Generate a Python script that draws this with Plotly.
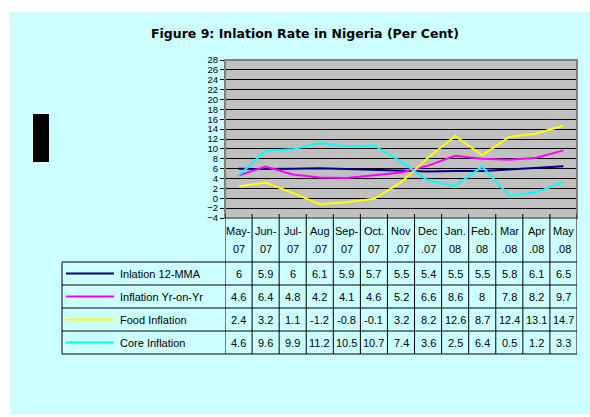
import plotly.graph_objects as go

month_top = ["May-", "Jun-", "Jul-", "Aug", "Sep-", "Oct.", "Nov", "Dec", "Jan.", "Feb.", "Mar", "Apr", "May"]
month_bottom = ["07", "07", "07", ".07", "07", "07", ".07", ".07", "08", "08", ".08", ".08", ".08"]
series_names = ["Inlation 12-MMA", "Inflation Yr-on-Yr", "Food Inflation", "Core Inflation"]
mma12 = [6, 5.9, 6, 6.1, 5.9, 5.7, 5.5, 5.4, 5.5, 5.5, 5.8, 6.1, 6.5]
yoy = [4.6, 6.4, 4.8, 4.2, 4.1, 4.6, 5.2, 6.6, 8.6, 8, 7.8, 8.2, 9.7]
food = [2.4, 3.2, 1.1, -1.2, -0.8, -0.1, 3.2, 8.2, 12.6, 8.7, 12.4, 13.1, 14.7]
core = [4.6, 9.6, 9.9, 11.2, 10.5, 10.7, 7.4, 3.6, 2.5, 6.4, 0.5, 1.2, 3.3]
colors = ["#000080", "#FF00FF", "#FFFF00", "#00FFFF"]
title = "Figure 9: Inlation Rate in Nigeria (Per Cent)"

W, H = 590, 417
L, R, T, B = 225, 577, 60, 218

def px(xp):
    return (xp - L) / (R - L)

def py(yp):
    return (B - yp) / (B - T)

FONT = "Liberation Sans"
data = [mma12, yoy, food, core]
xs = list(range(len(month_top)))

fig = go.Figure()
for name, vals, c in zip(series_names, data, colors):
    fig.add_trace(go.Scatter(x=xs, y=vals, mode="lines", name=name,
                             line=dict(color=c, width=2), showlegend=False, hoverinfo="skip"))

shapes = []
shapes.append(dict(type="rect", xref="paper", yref="paper", x0=px(0), x1=px(10), y0=py(0), y1=py(H),
                   fillcolor="white", line=dict(width=0), layer="below"))
shapes.append(dict(type="rect", xref="paper", yref="paper", x0=px(0), x1=px(W), y0=py(0), y1=py(12),
                   fillcolor="white", line=dict(width=0), layer="below"))
shapes.append(dict(type="rect", xref="paper", yref="paper", x0=px(0), x1=px(W), y0=py(414), y1=py(H),
                   fillcolor="white", line=dict(width=0), layer="below"))
shapes.append(dict(type="rect", xref="paper", yref="paper", x0=px(33), x1=px(49), y0=py(114), y1=py(162),
                   fillcolor="black", line=dict(width=0)))
shapes.append(dict(type="rect", xref="paper", yref="paper", x0=0, x1=1, y0=0, y1=1,
                   line=dict(color="#808080", width=2)))

row_lines = [262, 285, 308, 331, 354]
line_col = "#000000"
for yl in row_lines:
    shapes.append(dict(type="line", xref="paper", yref="paper", x0=px(62), x1=1, y0=py(yl), y1=py(yl),
                       line=dict(color=line_col, width=1)))
shapes.append(dict(type="line", xref="paper", yref="paper", x0=px(62), x1=px(62), y0=py(262), y1=py(354),
                   line=dict(color=line_col, width=1)))
for i in range(len(month_top) + 1):
    shapes.append(dict(type="line", xref="x", yref="paper", x0=i - 0.5, x1=i - 0.5, y0=py(B), y1=py(354),
                       line=dict(color=line_col, width=1)))
    shapes.append(dict(type="line", xref="x", yref="paper", x0=i - 0.5, x1=i - 0.5, y0=0, y1=py(B - 4),
                       line=dict(color=line_col, width=1)))
for r, c in enumerate(colors):
    yc = (row_lines[r] + row_lines[r + 1]) / 2
    shapes.append(dict(type="line", xref="paper", yref="paper", x0=px(66), x1=px(114), y0=py(yc), y1=py(yc),
                       line=dict(color=c, width=2)))

annotations = []
annotations.append(dict(text="<b>" + title + "</b>", xref="paper", yref="paper", x=px(305), y=py(33),
                        showarrow=False, font=dict(family="DejaVu Sans", size=12.5, color="black"),
                        xanchor="center", yanchor="middle"))
for i, (mt, mb) in enumerate(zip(month_top, month_bottom)):
    annotations.append(dict(text=mt, xref="x", yref="paper", x=i, y=py(231), showarrow=False,
                            font=dict(family=FONT, size=11, color="black"), xanchor="center",
                            yanchor="middle"))
    annotations.append(dict(text=mb, xref="x", yref="paper", x=i, y=py(249), showarrow=False,
                            font=dict(family=FONT, size=11, color="black"), xanchor="center",
                            yanchor="middle"))
for r, (name, vals) in enumerate(zip(series_names, data)):
    yc = (row_lines[r] + row_lines[r + 1]) / 2
    annotations.append(dict(text=name, xref="paper", yref="paper", x=px(118), y=py(yc), showarrow=False,
                            font=dict(family=FONT, size=11, color="black"), xanchor="left", yanchor="middle"))
    for i, v in enumerate(vals):
        annotations.append(dict(text=str(v), xref="x", yref="paper", x=i, y=py(yc), showarrow=False,
                                font=dict(family=FONT, size=11, color="black"), xanchor="center",
                                yanchor="middle"))

fig.update_layout(
    width=W, height=H,
    margin=dict(l=L, r=W - R, t=T, b=H - B, pad=0),
    paper_bgcolor="#CCFFFF", plot_bgcolor="#C0C0C0",
    shapes=shapes, annotations=annotations,
    xaxis=dict(range=[-0.5, len(month_top) - 0.5], showticklabels=False, showgrid=False, zeroline=False,
               ticks="", fixedrange=True),
    yaxis=dict(range=[-4, 28], dtick=2, tick0=-4, showgrid=True, gridcolor="#000000", gridwidth=1,
               zeroline=False, showline=True, linecolor="#000000", linewidth=1, ticks="outside",
               ticklen=4, tickcolor="#000000", tickfont=dict(family=FONT, size=9.5, color="black"),
               fixedrange=True),
    font=dict(family=FONT),
    hovermode=False,
)

fig.write_html("out.html", config={"displayModeBar": False},
               post_script="document.body.style.margin='0';document.body.style.overflow='hidden';")
